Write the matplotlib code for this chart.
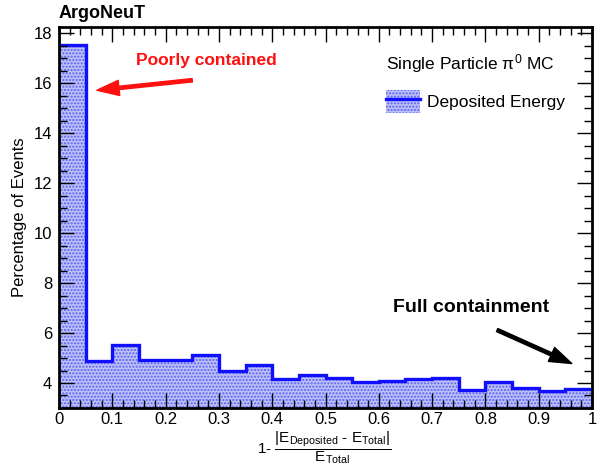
import numpy as np
import matplotlib
matplotlib.use('Agg')
import matplotlib.pyplot as plt
from matplotlib.patches import Patch
from matplotlib.lines import Line2D
from matplotlib.ticker import MultipleLocator

# ------------ data ---------------
bin_edges = np.round(np.arange(0, 1.0001, 0.05), 2)
percent_events = [17.55, 4.88, 5.51, 4.94, 4.94, 5.13, 4.49, 4.71, 4.16, 4.31,
                  4.21, 4.05, 4.08, 4.16, 4.19, 3.71, 4.05, 3.78, 3.68, 3.75]
x_ticks = [0, 0.1, 0.2, 0.3, 0.4, 0.5, 0.6, 0.7, 0.8, 0.9, 1]
x_tick_labels = ['0', '0.1', '0.2', '0.3', '0.4', '0.5', '0.6', '0.7', '0.8', '0.9', '1']
y_ticks = [4, 6, 8, 10, 12, 14, 16, 18]

FILL = '#bcc0f8'
HATCH = '#5a60f0'
LINE = '#1010ff'

# ------------ style ---------------
plt.rcParams['font.family'] = ['Liberation Sans', 'DejaVu Sans']
plt.rcParams['mathtext.fontset'] = 'custom'
plt.rcParams['mathtext.rm'] = 'Liberation Sans'
plt.rcParams['mathtext.it'] = 'Liberation Sans:italic'
plt.rcParams['hatch.linewidth'] = 1.0

fig = plt.figure(figsize=(5.98, 4.66), dpi=100)
ax = fig.add_axes([0.0987, 0.1245, 0.8913, 0.8175])

# filled histogram
ax.stairs(percent_events, bin_edges, baseline=3.0, fill=True,
          facecolor=FILL, edgecolor=HATCH, hatch='.....', linewidth=0)
# outline
ax.stairs(percent_events, bin_edges, baseline=None, color=LINE, linewidth=2.4)

ax.set_xlim(0, 1)
ax.set_ylim(3.0, 18.25)

ax.set_xticks(x_ticks)
ax.set_xticklabels(x_tick_labels)
ax.set_yticks(y_ticks)
ax.xaxis.set_minor_locator(MultipleLocator(0.02))
ax.yaxis.set_minor_locator(MultipleLocator(0.5))
ax.tick_params(which='both', direction='in', top=True, right=True,
               labelsize=12, width=1.0, color='black')
ax.tick_params(which='major', length=11, pad=5)
ax.tick_params(axis='x', which='major', pad=3)
ax.tick_params(which='minor', length=6)
for s in ax.spines.values():
    s.set_linewidth(2)

ax.set_ylabel('Percentage of Events', fontsize=12, labelpad=5)

# x label as a fraction
fig.text(0.543, 0.040,
         r'$\mathrm{1\text{-}}\ \dfrac{|\mathrm{E_{Deposited}}\ \text{-}\ \mathrm{E_{Total}}|}{\mathrm{E_{Total}}}$',
         ha='center', va='center', fontsize=11)

# title
fig.text(0.0987, 0.972, 'ArgoNeuT', fontsize=13, fontweight='bold', ha='left', va='center')

# legend
fill_handle = Patch(facecolor=FILL, edgecolor=HATCH, hatch='.....', linewidth=0)
line_handle = Line2D([], [], color=LINE, linewidth=2.4)
leg = ax.legend([(fill_handle, line_handle)], ['Deposited Energy'],
                title=r'Single Particle $\mathrm{\pi}^{0}$ MC', loc='upper left',
                bbox_to_anchor=(0.613, 0.935), frameon=False, fontsize=12.5,
                title_fontsize=12.5, handlelength=1.95, handleheight=1.6,
                handletextpad=0.45, labelspacing=0.9, borderpad=0.0,
                borderaxespad=0.0)
leg._legend_box.align = 'left'

# annotations
ax.annotate('', xy=(0.071, 15.72), xytext=(0.25, 16.12),
            arrowprops=dict(color='#ff1010', width=2.4, headwidth=11, headlength=16))
ax.text(0.276, 16.92, 'Poorly contained', color='#ff1010', fontsize=12.5,
        fontweight='bold', ha='center', va='center')

ax.annotate('', xy=(0.962, 4.78), xytext=(0.822, 6.12),
            arrowprops=dict(color='black', width=2.4, headwidth=11, headlength=16))
ax.text(0.773, 7.04, 'Full containment', color='black', fontsize=14,
        fontweight='bold', ha='center', va='center')

fig.savefig('out.png', dpi=100)
